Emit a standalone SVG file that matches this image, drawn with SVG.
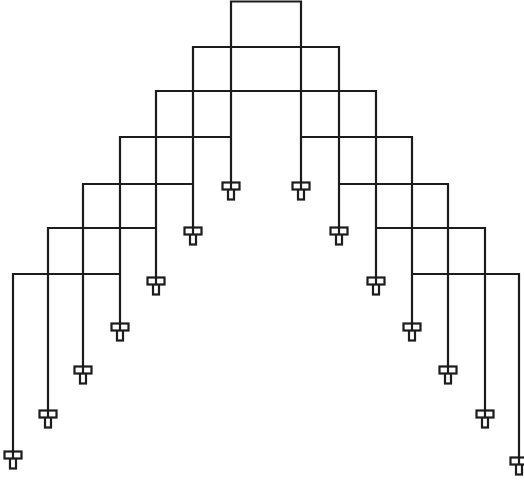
<svg xmlns="http://www.w3.org/2000/svg" width="524" height="480" viewBox="0 0 524 480">
<style>
.w{fill:none;stroke:#1c1c1c;stroke-width:2.2}
.t{fill:#fff;stroke:#1c1c1c;stroke-width:2.2}
</style>
<defs>
<g id="tee">
<rect class="t" x="-3" y="6" width="6" height="10.5"/>
<rect class="t" x="-8.5" y="-0.5" width="17" height="7"/>
<path class="w" d="M0 -0.5V6.5"/>
</g>
</defs>
<rect width="524" height="480" fill="#fff"/>
<g id="connectors" class="w">
<path d="M231 183V1.5H301V183"/>
<path d="M193 228V47H339V228"/>
<path d="M156 278V91H376V278"/>
<path d="M120 324V137H231"/>
<path d="M301 137H412V324"/>
<path d="M83 367V184H193"/>
<path d="M339 184H448V367"/>
<path d="M48 411V228H156"/>
<path d="M376 228H485V411"/>
<path d="M13 452V274H120"/>
<path d="M412 274H519V458"/>
</g>
<g id="n1"><use href="#tee" x="13" y="452"/></g>
<g id="n2"><use href="#tee" x="48" y="411"/></g>
<g id="n3"><use href="#tee" x="83" y="367"/></g>
<g id="n4"><use href="#tee" x="120" y="324"/></g>
<g id="n5"><use href="#tee" x="156" y="278"/></g>
<g id="n6"><use href="#tee" x="193" y="228"/></g>
<g id="n7"><use href="#tee" x="231" y="183"/></g>
<g id="n8"><use href="#tee" x="301" y="183"/></g>
<g id="n9"><use href="#tee" x="339" y="228"/></g>
<g id="n10"><use href="#tee" x="376" y="278"/></g>
<g id="n11"><use href="#tee" x="412" y="324"/></g>
<g id="n12"><use href="#tee" x="448" y="367"/></g>
<g id="n13"><use href="#tee" x="485" y="411"/></g>
<g id="n14"><use href="#tee" x="519" y="458"/></g>
</svg>
